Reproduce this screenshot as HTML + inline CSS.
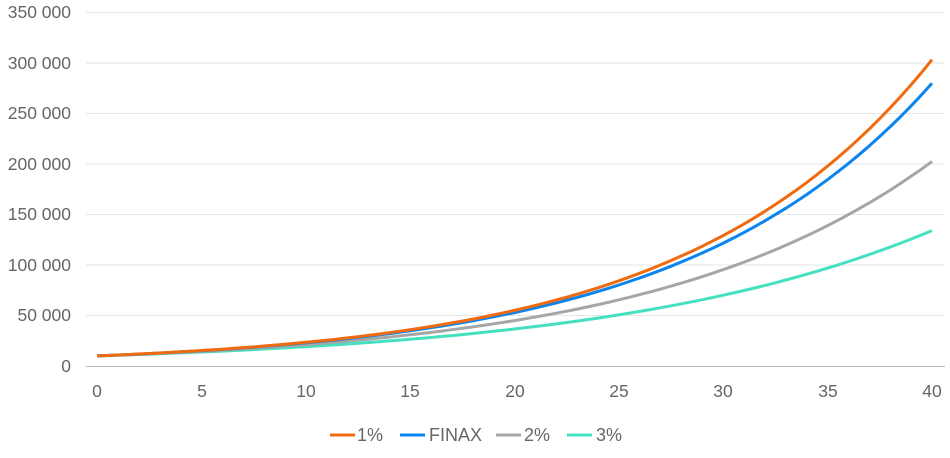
<!DOCTYPE html>
<html><head><meta charset="utf-8"><style>
body{margin:0;background:#fff;}
svg{display:block;font-family:"Liberation Sans",sans-serif;}
</style></head><body>
<svg id="c" width="950" height="458" xmlns="http://www.w3.org/2000/svg">
<g stroke="#e6e6e6" stroke-width="1">
<line x1="86" x2="945" y1="12.5" y2="12.5"/><line x1="86" x2="945" y1="63" y2="63"/>
<line x1="86" x2="945" y1="113.5" y2="113.5"/><line x1="86" x2="945" y1="164" y2="164"/>
<line x1="86" x2="945" y1="214.5" y2="214.5"/><line x1="86" x2="945" y1="265" y2="265"/>
<line x1="86" x2="945" y1="315.5" y2="315.5"/>
</g>
<line x1="86" x2="945" y1="366.5" y2="366.5" stroke="#bbb"/>
<g fill="#666" font-size="17.5" text-anchor="end">
<text x="71" y="18">350 000</text><text x="71" y="69">300 000</text>
<text x="71" y="119">250 000</text><text x="71" y="170">200 000</text>
<text x="71" y="220">150 000</text><text x="71" y="271">100 000</text>
<text x="71" y="321">50 000</text><text x="71" y="372">0</text>
</g>
<g fill="#666" font-size="17.5" text-anchor="middle">
<text x="97" y="397">0</text><text x="202" y="397">5</text><text x="306" y="397">10</text>
<text x="410" y="397">15</text><text x="515" y="397">20</text><text x="619" y="397">25</text>
<text x="723" y="397">30</text><text x="828" y="397">35</text><text x="932" y="397">40</text>
</g>
<g id="lines" fill="none" stroke-width="3" stroke-linejoin="round"></g>
<g font-size="18" fill="#666">
<line x1="330" x2="355" y1="435" y2="435" stroke="#f06a0f" stroke-width="3"/><text x="357" y="441">1%</text>
<line x1="400" x2="425" y1="435" y2="435" stroke="#0a84ee" stroke-width="3"/><text x="429" y="441">FINAX</text>
<line x1="496" x2="521" y1="435" y2="435" stroke="#a6a6a6" stroke-width="3"/><text x="524" y="441">2%</text>
<line x1="567" x2="592" y1="435" y2="435" stroke="#45e0bf" stroke-width="3"/><text x="596" y="441">3%</text>
</g>
</svg>
<script>
var s=[["#45e0bf",0.0649],["#a6a6a6",0.0752],["#0a84ee",0.0833],["#f06a0f",0.0853]];
var g=document.getElementById("lines"),ns="http://www.w3.org/2000/svg";
s.forEach(function(a){var d="";for(var t=0;t<=40.2;t+=0.5){var v=10000*Math.exp(a[1]*t);var x=97+t*20.875,y=366-v/50000*50.5;d+=(d?"L":"M")+x.toFixed(1)+","+y.toFixed(1);}
var p=document.createElementNS(ns,"path");p.setAttribute("d",d);p.setAttribute("stroke",a[0]);g.appendChild(p);});
</script>
</body></html>
